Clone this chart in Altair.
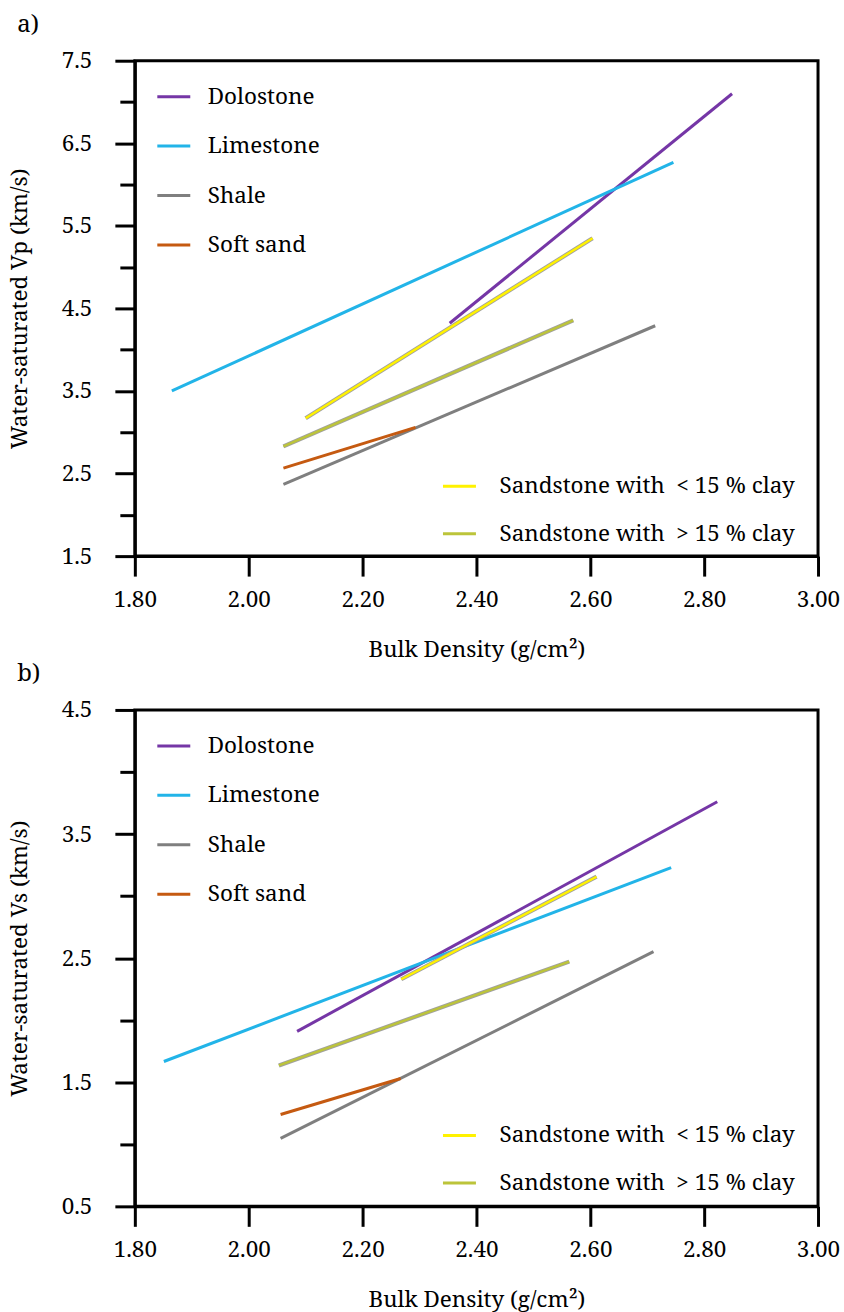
import altair as alt
import pandas as pd

FONT = "Noto Serif"
FS = 22.5

rocks = ["Dolostone", "Limestone", "Shale", "Soft sand"]
rock_colors = ["#7536A6", "#22B4E8", "#7F7F7F", "#C55A11"]
sands = ["Sandstone with\u00a0 < 15 % clay", "Sandstone with\u00a0 > 15 % clay"]
sand_colors = ["#FFF200", "#BCC43A"]

# Panel a) Vp lines: [x_start, x_end], [y_start, y_end]
vp_x = {
    "Dolostone": [2.353, 2.849],
    "Limestone": [1.865, 2.746],
    "Shale": [2.061, 2.714],
    "Soft sand": [2.061, 2.293],
    sands[0]: [2.100, 2.604],
    sands[1]: [2.061, 2.570],
}
vp_y = {
    "Dolostone": [4.32, 7.10],
    "Limestone": [3.50, 6.27],
    "Shale": [2.37, 4.29],
    "Soft sand": [2.565, 3.06],
    sands[0]: [3.17, 5.35],
    sands[1]: [2.83, 4.355],
}

# Panel b) Vs lines
vs_x = {
    "Dolostone": [2.085, 2.823],
    "Limestone": [1.851, 2.742],
    "Shale": [2.056, 2.711],
    "Soft sand": [2.056, 2.267],
    sands[0]: [2.268, 2.611],
    sands[1]: [2.053, 2.563],
}
vs_y = {
    "Dolostone": [1.91, 3.76],
    "Limestone": [1.667, 3.23],
    "Shale": [1.047, 2.552],
    "Soft sand": [1.24, 1.53],
    sands[0]: [2.33, 3.156],
    sands[1]: [1.635, 2.472],
}

x_ticks = [1.8, 2.0, 2.2, 2.4, 2.6, 2.8, 3.0]
vp_ticks = [1.5, 2.0, 2.5, 3.0, 3.5, 4.0, 4.5, 5.0, 5.5, 6.0, 6.5, 7.0, 7.5]
vs_ticks = [0.5, 1.0, 1.5, 2.0, 2.5, 3.0, 3.5, 4.0, 4.5]


def make_df(xs, ys):
    rows = []
    for name in xs:
        for i, (xv, yv) in enumerate(zip(xs[name], ys[name])):
            rows.append({"name": name, "x": xv, "y": yv, "o": i})
    return pd.DataFrame(rows)


def panel(df, ydom, yticks, ytitle, label, h):
    xenc = alt.X(
        "x:Q",
        scale=alt.Scale(domain=[1.8, 3.0], nice=False, zero=False),
        axis=alt.Axis(
            values=x_ticks, format=".2f", title="Bulk Density (g/cm²)",
            tickSize=20, tickWidth=3, tickColor="black", domainColor="black",
            domainWidth=3, labelFont=FONT, labelFontSize=FS, labelColor="black",
            labelPadding=12, titleFont=FONT, titleFontSize=FS,
            titleFontWeight="normal", titleColor="black", titlePadding=28,
            grid=False, labelFlush=False,
        ),
    )
    yenc = alt.Y(
        "y:Q",
        scale=alt.Scale(domain=ydom, nice=False, zero=False),
        axis=alt.Axis(
            values=yticks,
            labelExpr="datum.value % 1 == 0.5 ? format(datum.value, '.1f') : ''",
            tickSize={"condition": {"test": "datum.value % 1 == 0.5", "value": 20}, "value": 15},
            title=ytitle, tickWidth=3, tickColor="black", domainColor="black",
            domainWidth=3, labelFont=FONT, labelFontSize=FS, labelColor="black",
            labelPadding=23, titleFont=FONT, titleFontSize=FS,
            titleFontWeight="normal", titleColor="black", titlePadding=30,
            grid=False, labelFlush=False,
        ),
    )
    rock_df = df[df["name"].isin(rocks)]
    sand_df = df[df["name"].isin(sands)]
    rock_layer = alt.Chart(rock_df).mark_line(strokeWidth=3).encode(
        x=xenc, y=yenc, order="o:Q",
        color=alt.Color(
            "name:N",
            scale=alt.Scale(domain=rocks, range=rock_colors),
            legend=alt.Legend(
                title=None, orient="none", legendX=21, legendY=18,
                labelFont=FONT, labelFontSize=FS, labelColor="black",
                symbolType="stroke", symbolSize=1089, symbolStrokeWidth=3,
                rowPadding=19.5, labelOffset=16, padding=0, labelLimit=500,
            ),
        ),
    )
    outline = alt.Chart(sand_df).mark_line(strokeWidth=4.2, color="#A0A0A0").encode(
        x=xenc, y=yenc, order="o:Q", detail="name:N"
    )
    sand_layer = alt.Chart(sand_df).mark_line(strokeWidth=2.4).encode(
        x=xenc, y=yenc, order="o:Q",
        stroke=alt.Stroke(
            "name:N",
            scale=alt.Scale(domain=sands, range=sand_colors),
            legend=alt.Legend(
                title=None, orient="none", legendX=307, legendY=408,
                labelFont=FONT, labelFontSize=FS, labelColor="black",
                symbolType="stroke", symbolSize=1089, symbolStrokeWidth=3,
                rowPadding=17.5, labelOffset=22, padding=0, labelLimit=500,
            ),
        ),
    )
    return alt.layer(rock_layer, outline, sand_layer).resolve_scale(
        color="independent", stroke="independent"
    ).properties(
        width=684, height=h,
        title=alt.TitleParams(
            label, anchor="start", frame="bounds", font=FONT, fontSize=24,
            fontWeight="normal", color="black", offset=13, dx=9,
        ),
    )


pa = panel(make_df(vp_x, vp_y), [1.5, 7.5], vp_ticks, "Water-saturated Vp (km/s)", "a)", 496)
pb = panel(make_df(vs_x, vs_y), [0.5, 4.5], vs_ticks, "Water-saturated Vs (km/s)", "b)", 497)

chart = alt.vconcat(pa, pb, spacing=-3).properties(
    padding={"left": 6, "top": 10, "right": 2, "bottom": 0},
    background="white",
).configure_view(stroke="black", strokeWidth=3)

chart.save("out.html", embed_options={"renderer": "svg", "actions": False})
